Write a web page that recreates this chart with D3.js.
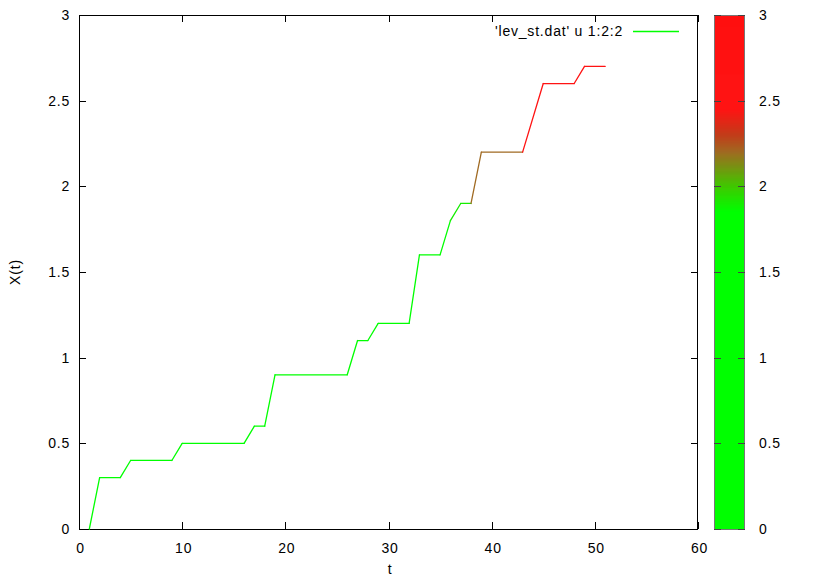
<!DOCTYPE html>
<html>
<head>
<meta charset="utf-8">
<script src="https://cdn.jsdelivr.net/npm/d3@7"></script>
<style>
  html, body { margin: 0; padding: 0; background: #fff; }
  svg { display: block; }
  text { font-family: "Liberation Sans", Arial, Helvetica, sans-serif; font-size: 14px; letter-spacing: 0.8px; fill: #000; }
</style>
</head>
<body>
<svg id="chart" width="830" height="581"></svg>
<script>
// ---- data ----
const tValues = [1, 2, 4, 5, 9, 10, 16, 17, 18, 19, 26, 27, 28, 29, 32, 33, 35, 36, 37, 38, 39, 43, 45, 48, 49, 51];
const xtValues = [0, 0.3, 0.3, 0.4, 0.4, 0.5, 0.5, 0.6, 0.6, 0.9, 0.9, 1.1, 1.1, 1.2, 1.2, 1.6, 1.6, 1.8, 1.9, 1.9, 2.2, 2.2, 2.6, 2.6, 2.7, 2.7];
const xTicks = [0, 10, 20, 30, 40, 50, 60];
const yTicks = [0, 0.5, 1, 1.5, 2, 2.5, 3];
const cbTicks = [0, 0.5, 1, 1.5, 2, 2.5, 3];
const paletteStops = [0, 1.85, 2.0, 2.1, 2.2, 2.3, 2.45, 3];
const paletteColors = ["#00ff00", "#00ff00", "#40c800", "#729810", "#a06a22", "#c23c1a", "#ff1414", "#ff1010"];
const legendLabel = "'lev_st.dat' u 1:2:2";

// ---- layout ----
const svg = d3.select("#chart");
const L = 79, R = 698, T = 15, B = 529;
const cbL = 714, cbR = 745;

const x = d3.scaleLinear().domain([0, 60]).range([L, R]);
const y = d3.scaleLinear().domain([0, 3]).range([B, T]);
const pal = d3.scaleLinear().domain(paletteStops).range(paletteColors).interpolate(d3.interpolateRgb).clamp(true);

const tickLen = 7;

// ticks (inward, mirrored)
const g = svg.append("g");
xTicks.forEach(v => {
  const px = Math.round(x(v)) + 0.5;
  g.append("line").attr("x1", px).attr("x2", px).attr("y1", B).attr("y2", B - tickLen).attr("stroke", "#000");
  g.append("line").attr("x1", px).attr("x2", px).attr("y1", T).attr("y2", T + tickLen).attr("stroke", "#000");
  g.append("text").attr("x", x(v) + 1.5).attr("y", 553).attr("text-anchor", "middle").text(String(v));
});
yTicks.forEach(v => {
  const py = Math.round(y(v)) + 0.5;
  g.append("line").attr("x1", L).attr("x2", L + tickLen).attr("y1", py).attr("y2", py).attr("stroke", "#000");
  g.append("line").attr("x1", R).attr("x2", R - tickLen).attr("y1", py).attr("y2", py).attr("stroke", "#000");
  g.append("text").attr("x", 70).attr("y", y(v) + 5).attr("text-anchor", "end").text(String(v));
});

// frame
svg.append("rect").attr("x", L + 0.5).attr("y", T + 0.5).attr("width", R - L - 1).attr("height", B - T)
  .attr("fill", "none").attr("stroke", "#000").attr("stroke-width", 1);

// axis titles
svg.append("text").attr("x", 390).attr("y", 574).attr("text-anchor", "middle").text("t");
svg.append("text").attr("transform", "translate(20," + (y(1.5)) + ") rotate(-90)").attr("text-anchor", "middle").text("X(t)");

// data line: each segment coloured by palette value of its end point
const pts = tValues.map((t, i) => ({ t: t, v: xtValues[i] }));
const lineG = svg.append("g");
for (let i = 1; i < pts.length; i++) {
  lineG.append("line")
    .attr("x1", x(pts[i - 1].t)).attr("y1", y(pts[i - 1].v))
    .attr("x2", x(pts[i].t)).attr("y2", y(pts[i].v))
    .attr("stroke", pal(pts[i].v)).attr("stroke-width", 1.3).attr("stroke-linecap", "round");
}

// legend
svg.append("text").attr("x", 623).attr("y", 36).attr("text-anchor", "end").text(legendLabel);
svg.append("line").attr("x1", 633).attr("x2", 679).attr("y1", 31.5).attr("y2", 31.5).attr("stroke", pal(0)).attr("stroke-width", 1.3);

// colorbox
const cb = d3.scaleLinear().domain([0, 3]).range([B, T]);
const cbG = svg.append("g");
const steps = d3.range(B - T);
steps.forEach(k => {
  const v = cb.invert(B - k - 0.5);
  cbG.append("rect").attr("x", cbL).attr("y", B - k - 1).attr("width", cbR - cbL).attr("height", 1.05)
    .attr("fill", pal(v));
});
cbG.append("rect").attr("x", cbL + 0.5).attr("y", T + 0.5).attr("width", cbR - cbL - 1).attr("height", B - T)
  .attr("fill", "none").attr("stroke", "#777").attr("stroke-width", 1);
cbTicks.forEach(v => {
  const py = Math.round(cb(v)) + 0.5;
  cbG.append("line").attr("x1", cbL).attr("x2", cbL + 7).attr("y1", py).attr("y2", py).attr("stroke", "#444");
  cbG.append("line").attr("x1", cbR).attr("x2", cbR - 7).attr("y1", py).attr("y2", py).attr("stroke", "#444");
  cbG.append("text").attr("x", 759).attr("y", cb(v) + 5).attr("text-anchor", "start").text(String(v));
});
</script>
</body>
</html>
